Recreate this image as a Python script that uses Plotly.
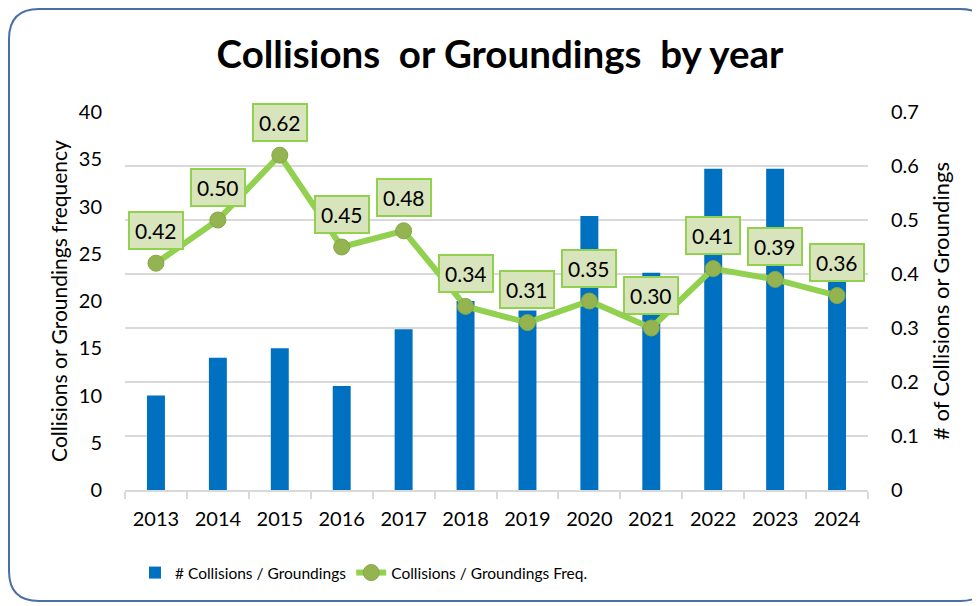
import plotly.graph_objects as go

years = ["2013", "2014", "2015", "2016", "2017", "2018", "2019", "2020", "2021", "2022", "2023", "2024"]
counts = [10, 14, 15, 11, 17, 20, 19, 29, 23, 34, 34, 22]
freq = [0.42, 0.50, 0.62, 0.45, 0.48, 0.34, 0.31, 0.35, 0.30, 0.41, 0.39, 0.36]
freq_labels = ["0.42", "0.50", "0.62", "0.45", "0.48", "0.34", "0.31", "0.35", "0.30", "0.41", "0.39", "0.36"]

FONT = "Lato"
W, H = 980, 606
OFF = 8  # page body margin offset


def px(x):
    return (x - OFF) / W


def py(y):
    return 1 - (y - OFF) / H


fig = go.Figure()
fig.add_trace(go.Bar(
    x=years, y=counts, name="# Collisions / Groundings",
    marker=dict(color="#0070C0", line=dict(width=0)),
    width=0.29, yaxis="y",
))
fig.add_trace(go.Scatter(
    x=years, y=freq, name="Collisions / Groundings Freq.",
    mode="lines+markers", yaxis="y2",
    line=dict(color="#92D050", width=6),
    marker=dict(color="#93B450", size=16, line=dict(color="#86A845", width=1)),
))

for i, (v, lab) in enumerate(zip(freq, freq_labels)):
    fig.add_annotation(
        x=i, y=v, xref="x", yref="y2", yshift=33, text=lab, showarrow=False,
        font=dict(family=FONT, size=21, color="#000000"),
        bgcolor="#D8E4BC", bordercolor="#92D050", borderwidth=2, borderpad=5,
    )

# rounded border
l, t, r, b, rad = 9, 9, 990, 601, 30
path = (
    f"M {px(l+rad)},{py(t)} L {px(r-rad)},{py(t)} Q {px(r)},{py(t)} {px(r)},{py(t+rad)} "
    f"L {px(r)},{py(b-rad)} Q {px(r)},{py(b)} {px(r-rad)},{py(b)} "
    f"L {px(l+rad)},{py(b)} Q {px(l)},{py(b)} {px(l)},{py(b-rad)} "
    f"L {px(l)},{py(t+rad)} Q {px(l)},{py(t)} {px(l+rad)},{py(t)} Z"
)
fig.add_shape(type="path", path=path, xref="paper", yref="paper",
              line=dict(color="#4A6FA5", width=2), layer="below")

fig.update_layout(
    width=W, height=H,
    margin=dict(l=0, r=0, t=0, b=0),
    paper_bgcolor="white", plot_bgcolor="white",
    font=dict(family=FONT, size=18, color="#000000"),
    title=dict(text="Collisions\u00a0 or Groundings\u00a0 by year", x=px(500), xanchor="center",
               y=py(55), yanchor="middle",
               font=dict(family=FONT, size=38.5, color="#000000", weight="bold")),
    showlegend=True,
    legend=dict(orientation="h", x=px(364), xanchor="center", y=py(573), yanchor="middle",
                font=dict(family=FONT, size=15.5), traceorder="normal"),
    xaxis=dict(domain=[px(125), px(868)], type="category", range=[-0.5, 11.5],
               categoryarray=years, categoryorder="array",
               showline=True, linecolor="#D9D9D9", linewidth=1.5,
               ticks="outside", tickson="boundaries", ticklen=7, tickcolor="#D9D9D9", tickwidth=1.5,
               showgrid=False, automargin=False, ticklabelstandoff=10,
               tickfont=dict(family=FONT, size=20)),
    yaxis=dict(domain=[py(490), py(112)], range=[0, 40], dtick=5, showgrid=False, zeroline=False,
               showline=False, ticks="", automargin=False, ticklabelstandoff=22,
               tickfont=dict(family=FONT, size=20),
               title=dict(text="Collisions or Groundings frequency", standoff=5,
                          font=dict(family=FONT, size=21))),
    yaxis2=dict(overlaying="y", side="right", range=[0, 0.7], dtick=0.1,
                showgrid=True, gridcolor="#D9D9D9", gridwidth=1.5, zeroline=False,
                showline=False, ticks="", automargin=False, ticklabelstandoff=22,
                tickfont=dict(family=FONT, size=20),
                title=dict(text="# of Collisions or Groundings", standoff=15,
                           font=dict(family=FONT, size=22))),
)

fig.write_html("out.html")
